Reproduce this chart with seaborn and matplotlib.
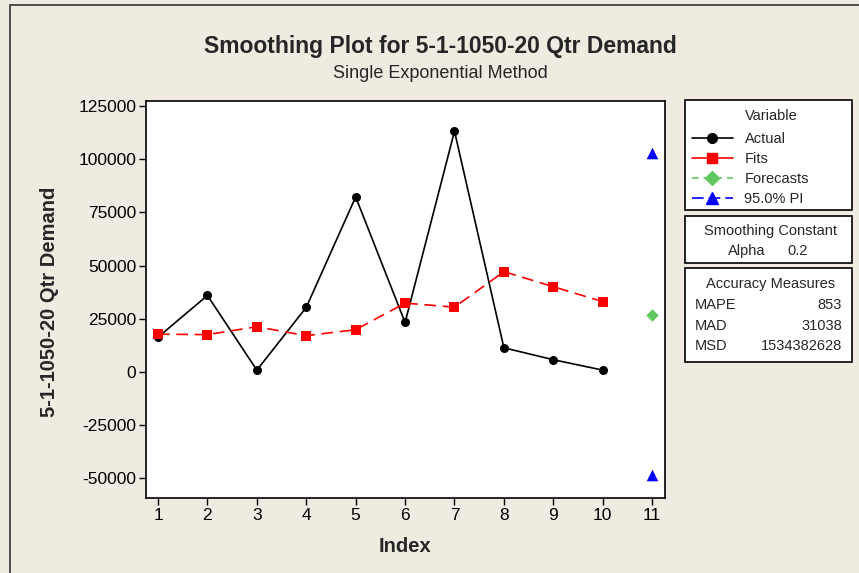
import numpy as np
import pandas as pd
import seaborn as sns
import matplotlib
matplotlib.use('Agg')
import matplotlib.pyplot as plt
from matplotlib.patches import Rectangle
from matplotlib.lines import Line2D

# data
index = list(range(1, 11))
actual = [16400, 36000, 900, 30400, 82300, 23300, 113200, 11400, 5800, 900]
fits = [17800, 17600, 21300, 17100, 19900, 32400, 30500, 47200, 40100, 33100]
forecast_idx = [11]
forecast = [26800]
pi_idx = [11, 11]
pi = [103100, -48200]
yticks = [-50000, -25000, 0, 25000, 50000, 75000, 100000, 125000]
xticks = list(range(1, 12))

alpha = '0.2'
measures = ['MAPE', 'MAD', 'MSD']
measure_vals = ['853', '31038', '1534382628']

sns.set_style('white')
plt.rcParams['font.family'] = ['Liberation Sans', 'DejaVu Sans']

W, H = 859, 573
bg = '#efebe1'
fig = plt.figure(figsize=(W / 100, H / 100), dpi=100, facecolor=bg)


def fx(px):
    return px / W


def fy(py):
    return 1 - py / H


ax = fig.add_axes([fx(146), fy(498), fx(665) - fx(146), fy(101) - fy(498)])
ax.set_facecolor('white')

df = pd.DataFrame({'Index': index, 'Actual': actual, 'Fits': fits})

sns.lineplot(data=df, x='Index', y='Actual', ax=ax, color='black', lw=1.2,
             marker='o', markersize=6.5, markeredgewidth=0, label='Actual')
sns.lineplot(data=df, x='Index', y='Fits', ax=ax, color='#ff0000', lw=1.2,
             marker='s', markersize=6.5, markeredgewidth=0, label='Fits',
             dashes=False)
ax.lines[-1].set_dashes((7, 4))
sns.scatterplot(x=forecast_idx, y=forecast, ax=ax, color='#5fc95f', marker='D',
                s=40, linewidth=0, label='Forecasts')
sns.scatterplot(x=pi_idx, y=pi, ax=ax, color='#0000ff', marker='^',
                s=70, linewidth=0, label='95.0% PI')

ax.set_xlim(0.757, 11.26)
ax.set_ylim(-59200, 127400)
ax.set_xticks(xticks)
ax.set_yticks(yticks)
ax.set_yticklabels([str(v) for v in yticks])
ax.tick_params(axis='both', direction='out', length=5, width=1, color='black',
               labelsize=12.5, labelcolor='black', left=True, bottom=True, pad=2)
for s in ax.spines.values():
    s.set_color('black')
    s.set_linewidth(1.2)
ax.set_xlabel('Index', fontsize=14.5, fontweight='bold')
ax.set_ylabel('5-1-1050-20 Qtr Demand', fontsize=14.5, fontweight='bold')
ax.xaxis.set_label_coords(0.5, -0.098)
ax.yaxis.set_label_coords(-0.168, 0.495)
ax.get_legend().remove()

fig.text(fx(440), fy(47), 'Smoothing Plot for 5-1-1050-20 Qtr Demand', ha='center', va='center',
         fontsize=16.5, fontweight='bold')
fig.text(fx(440), fy(73), 'Single Exponential Method', ha='center', va='center', fontsize=13)

# outer frame
fig.patches.append(Rectangle((fx(10), fy(H + 10)), 2, fy(5) - fy(H + 10), transform=fig.transFigure,
                             fill=False, edgecolor='#333333', lw=1.2))

# side boxes
for top, bot in [(100, 210), (216, 263), (268, 362)]:
    fig.patches.append(Rectangle((fx(685), fy(bot)), fx(852) - fx(685), fy(top) - fy(bot),
                                 transform=fig.transFigure, facecolor='white',
                                 edgecolor='black', lw=1.2))

fs = 10.5
fig.text(fx(771), fy(116), 'Variable', ha='center', va='center', fontsize=fs)
leg_handles = [
    Line2D([], [], color='black', lw=1.2, marker='o', markersize=7),
    Line2D([], [], color='#ff0000', lw=1.2, marker='s', markersize=7),
    Line2D([], [], color='#5fc95f', lw=1.2, ls=(0, (4, 3)), marker='D', markersize=7),
    Line2D([], [], color='#0000ff', lw=1.2, ls=(0, (7, 3)), marker='^', markersize=8),
]
fig.legend(leg_handles, ['Actual', 'Fits', 'Forecasts', '95.0% PI'], loc='upper left',
           bbox_to_anchor=(fx(692), fy(132)), frameon=False, fontsize=fs,
           handlelength=2.8, handletextpad=0.8, labelspacing=0.42, borderpad=0, borderaxespad=0)

fig.text(fx(771), fy(231), 'Smoothing Constant', ha='center', va='center', fontsize=fs)
fig.text(fx(747), fy(251), 'Alpha', ha='center', va='center', fontsize=fs)
fig.text(fx(798), fy(251), alpha, ha='center', va='center', fontsize=fs)

fig.text(fx(771), fy(284), 'Accuracy Measures', ha='center', va='center', fontsize=fs)
for i, (m, v) in enumerate(zip(measures, measure_vals)):
    yy = 305 + i * 20.5
    fig.text(fx(695), fy(yy), m, ha='left', va='center', fontsize=fs)
    fig.text(fx(842), fy(yy), v, ha='right', va='center', fontsize=fs)

fig.savefig('out.png', dpi=100, facecolor=bg)
